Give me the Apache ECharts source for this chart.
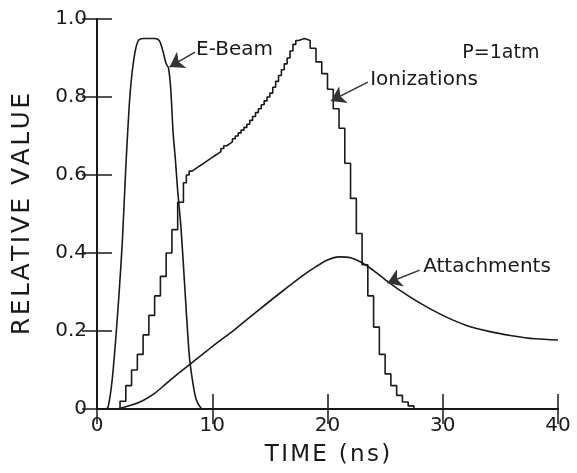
<!DOCTYPE html>
<html>
<head>
<meta charset="utf-8">
<script src="https://cdn.jsdelivr.net/npm/echarts@6/dist/echarts.min.js"></script>
<style>html,body{margin:0;padding:0;background:#fff}#c{width:577px;height:473px}</style>
</head>
<body>
<div id="c"></div>
<script>
// ---- data ----
const xTicks = [0, 10, 20, 30, 40];
const yTicks = [0, 0.2, 0.4, 0.6, 0.8, 1.0];

const eBeamT = [0, 0.8, 1.0, 1.3, 1.6, 1.9, 2.2, 2.5, 2.8, 3.0, 3.3, 3.6, 4.0, 5.0, 5.4, 5.7, 6.0, 6.2, 6.4, 6.6, 6.8, 7.0, 7.3, 7.6, 8.0, 8.3, 8.6, 9.0, 9.3, 40];
const eBeamV = [0, 0, 0.01, 0.07, 0.17, 0.29, 0.43, 0.62, 0.78, 0.85, 0.915, 0.945, 0.95, 0.95, 0.945, 0.92, 0.885, 0.875, 0.82, 0.71, 0.64, 0.56, 0.46, 0.32, 0.14, 0.07, 0.025, 0.003, 0, 0];

const ionT = [0, 1.5, 2.0, 2.5, 3.0, 3.5, 4.0, 4.5, 5.0, 5.5, 6.0, 6.5, 7.0, 7.5, 7.75, 8.0, 8.25, 8.5, 8.75, 9.0, 9.25, 9.5, 9.75, 10.0, 10.25, 10.5, 10.75, 11.0, 11.25, 11.5, 11.75, 12.0, 12.25, 12.5, 12.75, 13.0, 13.25, 13.5, 13.75, 14.0, 14.25, 14.5, 14.75, 15.0, 15.25, 15.5, 15.75, 16.0, 16.25, 16.5, 16.75, 17.0, 17.25, 17.5, 18.0, 18.5, 19.0, 19.5, 20.0, 20.5, 21.0, 21.5, 22.0, 22.5, 23.0, 23.5, 24.0, 24.5, 25.0, 25.5, 26.0, 26.5, 27.0, 27.5, 40];
const ionV = [0, 0, 0.02, 0.06, 0.10, 0.14, 0.19, 0.24, 0.29, 0.34, 0.40, 0.46, 0.53, 0.58, 0.60, 0.61, 0.615, 0.62, 0.625, 0.63, 0.635, 0.64, 0.645, 0.65, 0.655, 0.66, 0.668, 0.675, 0.68, 0.685, 0.693, 0.70, 0.708, 0.715, 0.722, 0.73, 0.74, 0.75, 0.76, 0.77, 0.78, 0.79, 0.80, 0.81, 0.825, 0.84, 0.855, 0.87, 0.885, 0.90, 0.918, 0.935, 0.945, 0.95, 0.945, 0.925, 0.89, 0.86, 0.82, 0.77, 0.72, 0.63, 0.54, 0.45, 0.37, 0.29, 0.21, 0.14, 0.09, 0.06, 0.035, 0.018, 0.008, 0, 0];

const attT = [0, 1.7, 2, 3, 4, 5, 6, 7, 8, 10, 12, 14, 16, 18, 19, 20, 21, 22, 23, 24, 25, 26, 28, 30, 32, 34, 36, 38, 40];
const attV = [0, 0, 0.002, 0.01, 0.022, 0.04, 0.065, 0.09, 0.113, 0.16, 0.205, 0.253, 0.3, 0.345, 0.365, 0.382, 0.39, 0.388, 0.375, 0.355, 0.332, 0.31, 0.272, 0.24, 0.215, 0.199, 0.188, 0.18, 0.177];

// annotation anchors (data coordinates): [text, labelX, labelY, arrowTailX, arrowTailY, arrowTipX, arrowTipY]
const eBeamNote = ['E-Beam', 8.6, 0.92, 8.5, 0.915, 6.3, 0.877];
const ionNote = ['Ionizations', 23.7, 0.844, 23.5, 0.838, 20.3, 0.79];
const attNote = ['Attachments', 28.3, 0.364, 28.0, 0.356, 25.2, 0.323];
const pressureNote = ['P=1atm', 31.7, 0.913];

const FONT = 'DejaVu Sans';
const INK = '#1a1a1a';
const hs = '\u200A';
const spaced = s => s.split('').join(hs);

function zip(a, b) { return a.map((v, i) => [v, b[i]]); }

function note(n) {
  return {
    markLine: {
      silent: true,
      symbol: ['none', 'arrow'],
      symbolSize: 14,
      lineStyle: { color: '#333', width: 1.5, type: 'solid' },
      itemStyle: { color: '#555' },
      label: { show: false },
      data: [[{ coord: [n[3], n[4]] }, { coord: [n[5], n[6]] }]]
    },
    markPoint: {
      silent: true,
      symbol: 'circle',
      symbolSize: 0,
      data: [{ coord: [n[1], n[2]], value: n[0] }],
      label: {
        show: true, position: 'right', distance: 0,
        formatter: n[0], color: INK, fontFamily: FONT, fontSize: 20
      }
    }
  };
}

const axisLine = { show: true, lineStyle: { color: INK, width: 2 } };
const tickIn = { show: true, inside: true, length: 15, lineStyle: { color: INK, width: 1.5 } };

const option = {
  animation: false,
  backgroundColor: '#fff',
  grid: { left: 97, right: 19, top: 19, bottom: 64 },
  xAxis: [
    {
      type: 'value', min: 0, max: 40, interval: 10, position: 'bottom',
      name: spaced('TIME (ns)'), nameLocation: 'middle', nameGap: 35,
      nameTextStyle: { fontFamily: FONT, fontSize: 23, color: INK },
      axisLine: axisLine, axisTick: tickIn, splitLine: { show: false },
      axisLabel: { margin: 7, fontFamily: FONT, fontSize: 20, color: INK,
        formatter: v => String(v) }
    },
    {
      type: 'value', min: 0, max: 40, interval: 10, position: 'top',
      axisLine: axisLine, axisTick: tickIn, splitLine: { show: false },
      axisLabel: { show: false }
    }
  ],
  yAxis: [
    {
      type: 'value', min: 0, max: 1, interval: 0.2, position: 'left',
      name: spaced('RELATIVE VALUE'), nameLocation: 'middle', nameGap: 62,
      nameTextStyle: { fontFamily: FONT, fontSize: 25, color: INK },
      axisLine: axisLine, axisTick: tickIn, splitLine: { show: false },
      axisLabel: { margin: 10, fontFamily: FONT, fontSize: 20, color: INK,
        formatter: v => (v === 0 ? '0' : v.toFixed(1)) }
    },
    {
      type: 'value', min: 0, max: 1, interval: 0.2, position: 'right',
      axisLine: axisLine, axisTick: tickIn, splitLine: { show: false },
      axisLabel: { show: false }
    }
  ],
  series: [
    Object.assign({
      name: 'E-Beam', type: 'line', data: zip(eBeamT, eBeamV),
      smooth: 0.25, showSymbol: false, lineStyle: { color: INK, width: 1.6 }
    }, note(eBeamNote)),
    Object.assign({
      name: 'Ionizations', type: 'line', data: zip(ionT, ionV),
      step: 'end', showSymbol: false, lineStyle: { color: INK, width: 1.6 }
    }, note(ionNote)),
    Object.assign({
      name: 'Attachments', type: 'line', data: zip(attT, attV),
      smooth: 0.3, showSymbol: false, lineStyle: { color: INK, width: 1.6 }
    }, note(attNote)),
    {
      name: 'pressure', type: 'scatter', data: [],
      markPoint: {
        silent: true, symbol: 'circle', symbolSize: 0,
        data: [{ coord: [pressureNote[1], pressureNote[2]] }],
        label: { show: true, position: 'right', distance: 0, formatter: pressureNote[0],
          color: INK, fontFamily: FONT, fontSize: 19 }
      }
    }
  ]
};

const chart = echarts.init(document.getElementById('c'), null, { renderer: 'canvas' });
chart.setOption(option);
</script>
</body>
</html>
